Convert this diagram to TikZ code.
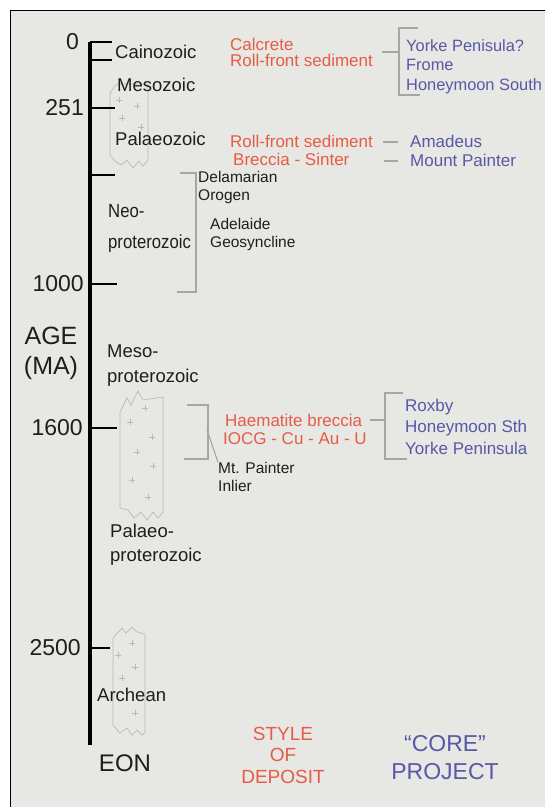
\documentclass[tikz,border=0pt]{standalone}
\usepackage{fontspec}
\setmainfont{Liberation Sans}
\newfontfamily\narrowsans[FakeStretch=0.88]{Liberation Sans}
\definecolor{panel}{RGB}{231,231,227}
\definecolor{depred}{RGB}{230,92,70}
\definecolor{projblue}{RGB}{88,88,168}
\definecolor{ink}{RGB}{30,30,30}
\tikzset{
  era/.style={anchor=west,inner sep=0pt,align=left,text=ink,font=\fontsize{18.5}{22}\selectfont},
  note/.style={anchor=west,inner sep=0pt,align=left,text=ink,font=\fontsize{15.5}{18}\selectfont},
  dep/.style={anchor=west,inner sep=0pt,align=left,text=depred,font=\fontsize{17}{18}\selectfont},
  proj/.style={anchor=west,inner sep=0pt,align=left,text=projblue,font=\fontsize{17}{19.5}\selectfont},
  agelbl/.style={anchor=east,inner sep=0pt,text=ink,font=\fontsize{23}{26}\selectfont},
  bracket/.style={draw=gray!70,line width=1.1pt},
  granite/.style={draw=gray!55,line width=0.7pt},
  tickline/.style={line width=2.6pt},
}
\begin{document}
\begin{tikzpicture}[x=1pt,y=-1pt]
\useasboundingbox (0,0) rectangle (545,807);
\fill[white] (0,0) rectangle (545,807);
\fill[panel] (10,10) rectangle (545,807);
\draw[line width=1pt] (10,807) -- (10,10) -- (545,10); %frame

% granites
\draw[granite] (110,155) -- (110,92) to[out=-90,in=180] (118,84) -- (148,84) -- (148,160) -- (143,166) -- (139,161) -- (133,168) -- (127,160) -- (121,165) -- (115,161) -- cycle;
\draw[granite] (116,100) -- (122,100) (119,97) -- (119,103) (134,106) -- (140,106) (137,103) -- (137,109);
\draw[granite] (119,118) -- (125,118) (122,115) -- (122,121) (138,127) -- (144,127) (141,124) -- (141,130);
\draw[granite] (120,508) -- (120,412) -- (127,398) -- (131,405) -- (138,391) -- (143,400) -- (163,397) -- (163,512) -- (158,518) -- (153,512) -- (147,520) -- (141,512) -- (134,518) -- (128,510) -- cycle;
\draw[granite] (142,408) -- (148,408) (145,405) -- (145,411) (127,422) -- (133,422) (130,419) -- (130,425);
\draw[granite] (149,437) -- (155,437) (152,434) -- (152,440) (134,452) -- (140,452) (137,449) -- (137,455);
\draw[granite] (150,466) -- (156,466) (153,463) -- (153,469) (129,480) -- (135,480) (132,477) -- (132,483);
\draw[granite] (145,497) -- (151,497) (148,494) -- (148,500);
\draw[granite] (113,725) -- (113,638) -- (122,628) -- (126,633) -- (132,627) -- (137,632) -- (145,634) -- (145,732) -- (142,735) -- (137,730) -- (132,735) -- (127,728) -- (120,733) -- cycle;
\draw[granite] (129,643) -- (135,643) (132,640) -- (132,646) (115,655) -- (121,655) (118,652) -- (118,658);
\draw[granite] (132,667) -- (138,667) (135,664) -- (135,670) (119,678) -- (125,678) (122,675) -- (122,681);
\draw[granite] (132,713) -- (138,713) (135,710) -- (135,716);

% time axis
\draw[line width=4.5pt] (90,42) -- (90,745);
\draw[tickline] (90,42) -- (112,42);
\draw[tickline] (90,60) -- (112,60);
\draw[tickline] (90,108) -- (115,108);
\draw[tickline] (90,175) -- (115,175);
\draw[tickline] (90,284) -- (117,284);
\draw[tickline] (90,428) -- (117,428);
\draw[tickline] (90,648) -- (110,648);
\node[agelbl] (lbl0) at (79,42) {0};
\node[agelbl] (lbl251) at (84,108) {251};
\node[agelbl] (lbl1000) at (84,284) {1000};
\node[agelbl] (lbl1600) at (83,428) {1600};
\node[agelbl] (lbl2500) at (81,648) {2500};
\node[align=center,inner sep=0pt,text=ink,font=\fontsize{25}{30}\selectfont] (age) at (51,353) {AGE\\(MA)};

% eons and eras
\node[era] (ceno) at (115,52) {Cainozoic};
\node[era] (meso) at (117,85) {Mesozoic};
\node[era] (palaeo) at (115,139) {Palaeozoic};
\node[era,font=\narrowsans\fontsize{19}{22}\selectfont] (neo) at (108,228) {Neo-\\[9pt]proterozoic};
\node[era] (mesoP) at (107,366) {Meso-\\[3pt]proterozoic};
\node[era] (palaeoP) at (110,545) {Palaeo-\\[2pt]proterozoic};
\node[era] (archean) at (97,695) {Archean};

% orogens
\draw[bracket] (180,173) -- (196,173) -- (196,292) -- (177,292);
\node[note] (delam) at (198,187) {Delamarian\\Orogen};
\node[note] (adel) at (210,234) {Adelaide\\Geosyncline};
\draw[bracket] (187,405) -- (208,405) -- (208,459) -- (184,459);
\node[note] (mtp) at (218,477) {Mt. Painter\\Inlier};
\draw[bracket] (207,430) -- (mtp.north west);

% styles of deposit
\node[dep,font=\fontsize{17}{16}\selectfont] (calc) at (230,52.5) {Calcrete\\Roll-front sediment};
\node[dep] (rollA) at (230,150) {Roll-front sediment\\\hspace*{3pt}Breccia - Sinter};
\node[dep] (haem) at (223,429) {\hspace*{2pt}Haematite breccia\\IOCG - Cu - Au - U};

% core projects
\coordinate (dashA) at (382,52);
\coordinate (bkA) at (399,52);
\draw[bracket] (dashA) -- (bkA);
\draw[bracket] (418,28) -- (399,28) -- (399,95) -- (420,95);
\node[proj,font=\fontsize{16.4}{19.5}\selectfont] (yorke) at (406,66.5) {Yorke Penisula?\\Frome\\Honeymoon South};
\node[proj,font=\fontsize{17}{19}\selectfont] (amad) at (410,151) {Amadeus\\Mount Painter};
\coordinate (dashB) at (383,142);
\coordinate (dashC) at (384,161);
\draw[bracket] (dashB) -- ++(15,0);
\draw[bracket] (dashC) -- ++(14,0);
\coordinate (dashD) at (370,420);
\coordinate (bkD) at (385,420);
\draw[bracket] (dashD) -- (bkD);
\draw[bracket] (403,393) -- (385,393) -- (385,459) -- (407,459);
\node[proj,font=\fontsize{17}{21.5}\selectfont] (roxby) at (405,426.5) {Roxby\\Honeymoon Sth\\Yorke Peninsula};

% column heads
\node[inner sep=0pt,text=ink,font=\fontsize{24}{28}\selectfont] (eon) at (125,763) {EON};
\node[align=center,inner sep=0pt,text=depred,font=\fontsize{19}{21.5}\selectfont] (style) at (283,755) {STYLE\\OF\\DEPOSIT};
\node[align=center,inner sep=0pt,text=projblue,font=\fontsize{23}{28}\selectfont] (core) at (445,758) {“CORE”\\PROJECT};
\end{tikzpicture}
\end{document}
